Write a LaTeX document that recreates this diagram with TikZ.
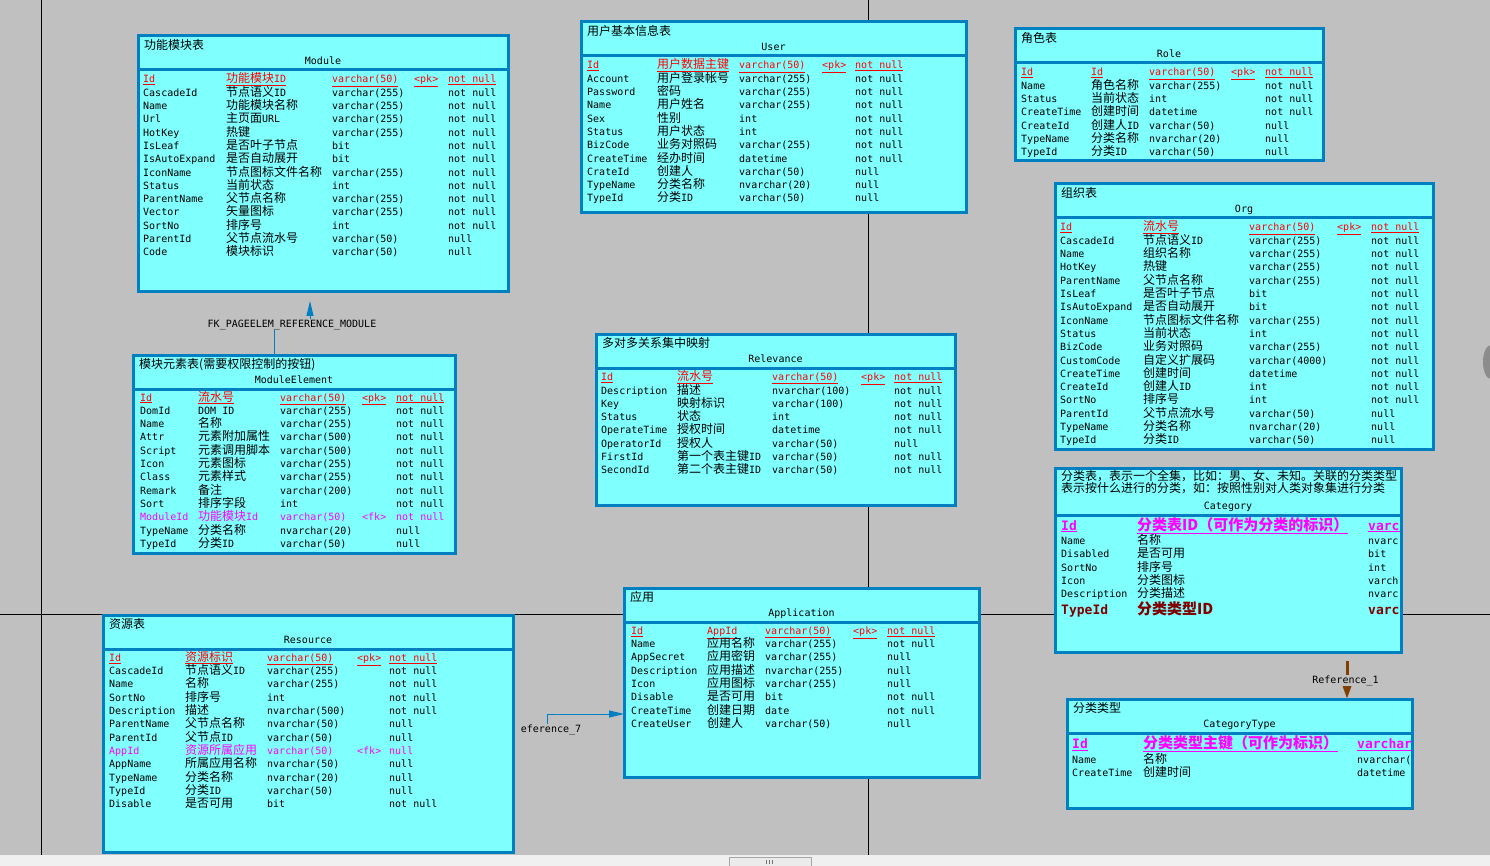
\documentclass[tikz,border=0pt]{standalone}
\usepackage{fontspec}
\usepackage{xcolor}
\usetikzlibrary{arrows.meta}
\setmonofont{DejaVu Sans Mono}
\newfontfamily\cjk{Noto Sans CJK SC}
\definecolor{canvasgray}{RGB}{192,192,192}
\definecolor{tabfill}{RGB}{128,255,255}
\definecolor{tabblue}{RGB}{0,128,192}
\definecolor{pkred}{RGB}{255,0,0}
\definecolor{fkpink}{RGB}{255,0,255}
\definecolor{typered}{RGB}{128,0,0}
\definecolor{refbrown}{RGB}{128,64,0}
\definecolor{barlight}{RGB}{240,240,240}

\newcommand\fmtpkred[1]{\underline{#1}}
\newcommand\fmtfkpink[1]{#1}
\newcommand\fmtblack[1]{#1}
\newcommand\lt[1]{{\fontsize{10}{12}\selectfont\ttfamily #1}}

\newcommand\tabbox[7]{%
  \node[tablebox,minimum width=#4pt,minimum height=#5pt] (#1) at (#2,#3) {};
  \draw[headsep] ([yshift=-34pt]#1.north west) -- ([yshift=-34pt]#1.north east);
  \node[tabtitle] (#1-title) at ([xshift=6pt,yshift=-13.5pt]#1.north west) {#6};
  \node[tabname] (#1-name) at ([yshift=-28.5pt]#1.north) {#7};}

\newcommand\tabrows[8]{%
  \foreach \kc/\ca/\cb/\cc/\cd/\ce [count=\i from 0] in {#8} {
    \node[fieldtxt,text=\kc] (#1-\i-a) at (#3,{#2+13.3*\i}) {\csname fmt\kc\endcsname{\ca}};
    \node[fieldcjk,text=\kc] (#1-\i-b) at (#4,{#2+13.3*\i}) {\csname fmt\kc\endcsname{\cb}};
    \node[fieldtxt,text=\kc] (#1-\i-c) at (#5,{#2+13.3*\i}) {\csname fmt\kc\endcsname{\cc}};
    \node[fieldtxt,text=\kc] (#1-\i-d) at (#6,{#2+13.3*\i}) {\csname fmt\kc\endcsname{\cd}};
    \node[fieldtxt,text=\kc] (#1-\i-e) at (#7,{#2+13.3*\i}) {\csname fmt\kc\endcsname{\ce}};
  }}

\begin{document}
\begin{tikzpicture}[x=1pt,y=-1pt,
    tablebox/.style={rectangle,draw=tabblue,fill=tabfill,line width=3pt,anchor=north west,inner sep=0pt,outer sep=0pt},
    headsep/.style={draw=tabblue,line width=3pt},
    tabtitle/.style={anchor=base west,inner sep=0pt,font=\fontsize{12}{13}\selectfont\cjk},
    tabname/.style={anchor=base,inner sep=0pt,font=\fontsize{10}{12}\selectfont\ttfamily},
    fieldtxt/.style={anchor=base west,inner sep=0pt,font=\fontsize{10}{12}\selectfont\ttfamily},
    fieldcjk/.style={fieldtxt,font=\fontsize{12}{13}\selectfont\cjk},
    bigkey/.style={text=fkpink,font=\fontsize{13}{15}\selectfont\ttfamily\bfseries},
    bigcjk/.style={font=\fontsize{15}{17}\selectfont\cjk\bfseries},
    typekey/.style={text=typered,font=\fontsize{13}{15}\selectfont\ttfamily\bfseries},
    reflabel/.style={anchor=base,inner sep=0pt,font=\fontsize{10}{12}\selectfont\ttfamily},
    reflink/.style={draw=tabblue,line width=1pt},
    refarrow/.style={reflink,-{Triangle[length=15pt,width=7pt]}},
    brownlink/.style={draw=refbrown,line width=3pt},
    pageline/.style={draw=black,line width=1pt}]
\fill[canvasgray] (0,0) rectangle (1490,866);
\useasboundingbox (0,0) rectangle (1490,866);
\draw[pageline] (41,0) -- (41,855);
\draw[pageline] (868,0) -- (868,855);
\draw[pageline] (0,614) -- (1490,614);

\tabbox{module}{138}{36}{370}{256}{功能模块表}{Module}
\tabrows{module}{83}{143}{226}{332}{414}{448}{
  pkred/Id/功能模块\lt{ID}/varchar(50)/<pk>/not null,
  black/CascadeId/节点语义\lt{ID}/varchar(255)/{}/not null,
  black/Name/功能模块名称/varchar(255)/{}/not null,
  black/Url/主页面\lt{URL}/varchar(255)/{}/not null,
  black/HotKey/热键/varchar(255)/{}/not null,
  black/IsLeaf/是否叶子节点/bit/{}/not null,
  black/IsAutoExpand/是否自动展开/bit/{}/not null,
  black/IconName/节点图标文件名称/varchar(255)/{}/not null,
  black/Status/当前状态/int/{}/not null,
  black/ParentName/父节点名称/varchar(255)/{}/not null,
  black/Vector/矢量图标/varchar(255)/{}/not null,
  black/SortNo/排序号/int/{}/not null,
  black/ParentId/父节点流水号/varchar(50)/{}/null,
  black/Code/模块标识/varchar(50)/{}/null}

\tabbox{user}{581}{22}{385}{191}{用户基本信息表}{User}
\tabrows{user}{69}{587}{657}{739}{822}{855}{
  pkred/Id/用户数据主键/varchar(50)/<pk>/not null,
  black/Account/用户登录帐号/varchar(255)/{}/not null,
  black/Password/密码/varchar(255)/{}/not null,
  black/Name/用户姓名/varchar(255)/{}/not null,
  black/Sex/性别/int/{}/not null,
  black/Status/用户状态/int/{}/not null,
  black/BizCode/业务对照码/varchar(255)/{}/not null,
  black/CreateTime/经办时间/datetime/{}/not null,
  black/CrateId/创建人/varchar(50)/{}/null,
  black/TypeName/分类名称/nvarchar(20)/{}/null,
  black/TypeId/分类\lt{ID}/varchar(50)/{}/null}

\tabbox{role}{1015}{29}{308}{132}{角色表}{Role}
\tabrows{role}{76}{1021}{1091}{1149}{1231}{1265}{
  pkred/Id/\lt{Id}/varchar(50)/<pk>/not null,
  black/Name/角色名称/varchar(255)/{}/not null,
  black/Status/当前状态/int/{}/not null,
  black/CreateTime/创建时间/datetime/{}/not null,
  black/CreateId/创建人\lt{ID}/varchar(50)/{}/null,
  black/TypeName/分类名称/nvarchar(20)/{}/null,
  black/TypeId/分类\lt{ID}/varchar(50)/{}/null}

\tabbox{org}{1055}{184}{378}{265}{组织表}{Org}
\tabrows{org}{231}{1060}{1143}{1249}{1337}{1371}{
  pkred/Id/流水号/varchar(50)/<pk>/not null,
  black/CascadeId/节点语义\lt{ID}/varchar(255)/{}/not null,
  black/Name/组织名称/varchar(255)/{}/not null,
  black/HotKey/热键/varchar(255)/{}/not null,
  black/ParentName/父节点名称/varchar(255)/{}/not null,
  black/IsLeaf/是否叶子节点/bit/{}/not null,
  black/IsAutoExpand/是否自动展开/bit/{}/not null,
  black/IconName/节点图标文件名称/varchar(255)/{}/not null,
  black/Status/当前状态/int/{}/not null,
  black/BizCode/业务对照码/varchar(255)/{}/not null,
  black/CustomCode/自定义扩展码/varchar(4000)/{}/not null,
  black/CreateTime/创建时间/datetime/{}/not null,
  black/CreateId/创建人\lt{ID}/int/{}/not null,
  black/SortNo/排序号/int/{}/not null,
  black/ParentId/父节点流水号/varchar(50)/{}/null,
  black/TypeName/分类名称/nvarchar(20)/{}/null,
  black/TypeId/分类\lt{ID}/varchar(50)/{}/null}

\tabbox{melem}{133}{355}{322}{198}{模块元素表(需要权限控制的按钮)}{ModuleElement}
\tabrows{melem}{401}{140}{198}{280}{362}{396}{
  pkred/Id/流水号/varchar(50)/<pk>/not null,
  black/DomId/\lt{DOM ID}/varchar(255)/{}/not null,
  black/Name/名称/varchar(255)/{}/not null,
  black/Attr/元素附加属性/varchar(500)/{}/not null,
  black/Script/元素调用脚本/varchar(500)/{}/not null,
  black/Icon/元素图标/varchar(255)/{}/not null,
  black/Class/元素样式/varchar(255)/{}/not null,
  black/Remark/备注/varchar(200)/{}/not null,
  black/Sort/排序字段/int/{}/not null,
  fkpink/ModuleId/功能模块\lt{Id}/varchar(50)/<fk>/not null,
  black/TypeName/分类名称/nvarchar(20)/{}/null,
  black/TypeId/分类\lt{ID}/varchar(50)/{}/null}

\tabbox{relev}{596}{334}{359}{171}{多对多关系集中映射}{Relevance}
\tabrows{relev}{380.7}{601}{677}{772}{861}{894}{
  pkred/Id/流水号/varchar(50)/<pk>/not null,
  black/Description/描述/nvarchar(100)/{}/not null,
  black/Key/映射标识/varchar(100)/{}/not null,
  black/Status/状态/int/{}/not null,
  black/OperateTime/授权时间/datetime/{}/not null,
  black/OperatorId/授权人/varchar(50)/{}/null,
  black/FirstId/第一个表主键\lt{ID}/varchar(50)/{}/not null,
  black/SecondId/第二个表主键\lt{ID}/varchar(50)/{}/not null}

\tabbox{app}{624}{588}{355}{189}{应用}{Application}
\tabrows{app}{634.3}{631}{707}{765}{853}{887}{
  pkred/Id/\lt{AppId}/varchar(50)/<pk>/not null,
  black/Name/应用名称/varchar(255)/{}/not null,
  black/AppSecret/应用密钥/varchar(255)/{}/null,
  black/Description/应用描述/nvarchar(255)/{}/null,
  black/Icon/应用图标/varchar(255)/{}/null,
  black/Disable/是否可用/bit/{}/not null,
  black/CreateTime/创建日期/date/{}/not null,
  black/CreateUser/创建人/varchar(50)/{}/null}

\tabbox{res}{103}{615}{410}{237}{资源表}{Resource}
\tabrows{res}{661.3}{109}{185}{267}{357}{389}{
  pkred/Id/资源标识/varchar(50)/<pk>/not null,
  black/CascadeId/节点语义\lt{ID}/varchar(255)/{}/not null,
  black/Name/名称/varchar(255)/{}/not null,
  black/SortNo/排序号/int/{}/not null,
  black/Description/描述/nvarchar(500)/{}/not null,
  black/ParentName/父节点名称/nvarchar(50)/{}/null,
  black/ParentId/父节点\lt{ID}/varchar(50)/{}/null,
  fkpink/AppId/资源所属应用/varchar(50)/<fk>/null,
  black/AppName/所属应用名称/nvarchar(50)/{}/null,
  black/TypeName/分类名称/nvarchar(20)/{}/null,
  black/TypeId/分类\lt{ID}/varchar(50)/{}/null,
  black/Disable/是否可用/bit/{}/not null}

\node[tablebox,minimum width=346pt,minimum height=184pt] (cat) at (1055,468) {};
\draw[headsep] ([yshift=-47pt]cat.north west) -- ([yshift=-47pt]cat.north east);
\node[tabtitle] (cat-title) at (1061,480) {分类表，表示一个全集，比如：男、女、未知。关联的分类类型};
\node[tabtitle] (cat-title2) at (1061,492) {表示按什么进行的分类，如：按照性别对人类对象集进行分类};
\node[tabname] (cat-name) at ([yshift=-41.3pt]cat.north) {Category};
\node[fieldtxt,bigkey] (cat-0-a) at (1061,530) {\underline{Id}};
\node[fieldtxt,bigkey,bigcjk] (cat-0-b) at (1137,530) {\underline{分类表ID（可作为分类的标识）}};
\node[fieldtxt,bigkey] (cat-0-c) at (1368,530) {\underline{varc}};
\foreach \ca/\cb/\cc [count=\i] in {Name/名称/nvarc, Disabled/是否可用/bit, SortNo/排序号/int,
    Icon/分类图标/varch, Description/分类描述/nvarc} {
  \node[fieldtxt] (cat-\i-a) at (1061,{531.5+13.2*\i}) {\ca};
  \node[fieldcjk] (cat-\i-b) at (1137,{531.5+13.2*\i}) {\cb};
  \node[fieldtxt] (cat-\i-c) at (1368,{531.5+13.2*\i}) {\cc};
}
\node[fieldtxt,typekey] (cat-6-a) at (1061,614) {TypeId};
\node[fieldtxt,typekey,bigcjk] (cat-6-b) at (1137,614) {分类类型ID};
\node[fieldtxt,typekey] (cat-6-c) at (1368,614) {varc};

\tabbox{ctype}{1067}{699}{345}{109}{分类类型}{CategoryType}
\node[fieldtxt,bigkey] (ctype-0-a) at (1072,748.3) {\underline{Id}};
\node[fieldtxt,bigkey,bigcjk] (ctype-0-b) at (1143,748.3) {\underline{分类类型主键（可作为标识）}};
\node[fieldtxt,bigkey] (ctype-0-c) at (1357,748.3) {\underline{varchar}};
\node[fieldtxt] (ctype-1-a) at (1072,763.7) {Name};
\node[fieldcjk] (ctype-1-b) at (1143,763.7) {名称};
\node[fieldtxt] (ctype-1-c) at (1357,763.7) {nvarchar(};
\node[fieldtxt] (ctype-2-a) at (1072,776.3) {CreateTime};
\node[fieldcjk] (ctype-2-b) at (1143,776.3) {创建时间};
\node[fieldtxt] (ctype-2-c) at (1357,776.3) {datetime};

\node[reflabel] (fkpage) at (292,327) {FK\_PAGEELEM\_REFERENCE\_MODULE};
\coordinate (fktip) at (310,301);
\draw[reflink] (fkpage.south -| 274,0) -- (melem.north -| 274,0);
\draw[refarrow] (fkpage.north -| fktip) -- (fktip);

\node[reflabel] (ref7) at (551,732) {eference\_7};
\draw[refarrow] (ref7.north -| 547,0) |- (app.west |- 0,714);

\node[reflabel] (ref1) at (1345.5,683) {Reference\_1};
\coordinate (r1top) at (1347,661);
\draw[brownlink] (r1top) -- (r1top |- ref1.north);
\draw[brownlink,-{Triangle[length=13pt,width=8pt]}] (r1top |- ref1.south) -- (r1top |- ctype.north);

\fill[barlight] (0,855) rectangle (1490,866);
\draw[fill=black!8,draw=black!35] (729,857) rectangle (811,866);
\draw[black!55] (766,860) -- (766,864) (769,860) -- (769,864) (772,860) -- (772,864);
\fill[black!45] (1491,362) ellipse (8 and 17);
\end{tikzpicture}
\end{document}
